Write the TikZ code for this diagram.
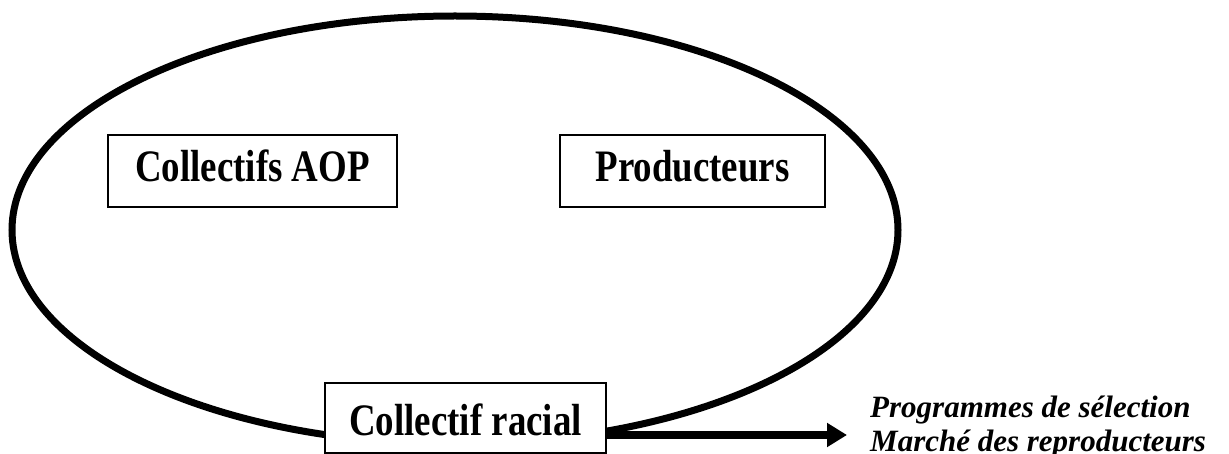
\documentclass[tikz,border=0pt]{standalone}
\usepackage{fontspec}
\setmainfont{Liberation Serif}
\newfontfamily\condfont[FakeStretch=0.82]{Liberation Serif}
\usetikzlibrary{arrows.meta}
\begin{document}
\begin{tikzpicture}[x=1pt,y=-1pt,
  box/.style={draw, line width=1.6pt, fill=white, inner sep=0pt, align=center,
    font=\condfont\bfseries\fontsize{45}{54}\selectfont},
  lbl/.style={anchor=base west, inner sep=0pt,
    font=\bfseries\itshape\fontsize{31}{34}\selectfont},
  ring/.style={line width=7pt},
  flow/.style={line width=8pt, -{Triangle[length=20pt,width=23pt]}}]
\useasboundingbox (0,0) rectangle (1229,454);
\draw[ring] (455,230) ellipse [x radius=443, y radius=214];
\node[box, minimum width=289pt, minimum height=72pt, text height=31pt, text depth=9pt] (aop) at (252.5,171) {Collectifs AOP};
\node[box, minimum width=265pt, minimum height=72pt, text height=31pt, text depth=9pt] (prod) at (692.5,171) {Producteurs};
\node[box, minimum width=281pt, minimum height=70pt, text height=34pt, text depth=0pt] (crac) at (465.5,418) {Collectif racial};
\coordinate (tip) at (847,435);
\draw[flow] (crac.east |- tip) -- (tip);
\node[lbl] (prog) at (870,417) {Programmes de sélection};
\node[lbl] (marche) at (870,451) {Marché des reproducteurs};
\end{tikzpicture}
\end{document}
